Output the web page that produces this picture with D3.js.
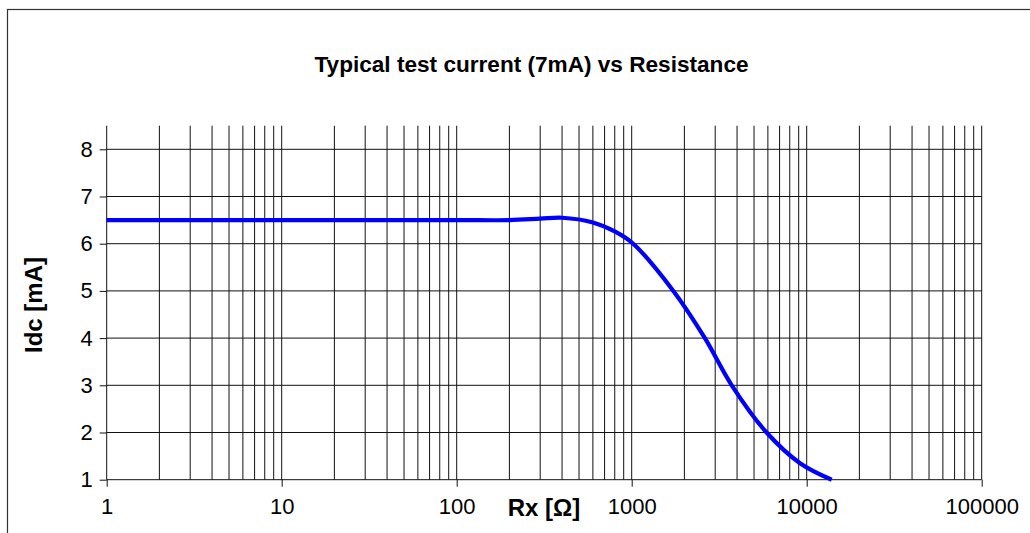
<!DOCTYPE html>
<html>
<head>
<meta charset="utf-8">
<script src="https://cdn.jsdelivr.net/npm/d3@7/dist/d3.min.js"></script>
<style>
  html, body { margin: 0; padding: 0; background: #fff; }
  svg { display: block; font-family: "Liberation Sans", Arial, sans-serif; }
</style>
</head>
<body>
<svg id="chart" width="1030" height="533"></svg>
<script>
// Test current vs. resistance (log x axis)
const resistance = [1, 10, 100, 200, 300, 400, 600, 800, 1020, 1730, 2620, 3730, 5900, 9160, 13900];
const current    = [6.5, 6.5, 6.5, 6.5, 6.53, 6.55, 6.45, 6.26, 6.0, 5.0, 4.0, 3.0, 2.0, 1.35, 1.0];
const xTicks = [1, 10, 100, 1000, 10000, 100000];
const yTicks = [1, 2, 3, 4, 5, 6, 7, 8];

const titleText = "Typical test current (7mA) vs Resistance";
const xLabel = "Rx [Ω]";
const yLabel = "Idc [mA]";

const svg = d3.select("#chart");
const plotL = 106.7, plotR = 981.7, plotT = 125.7, plotB = 479.7;

// outer frame
svg.append("rect")
  .attr("x", 7.5).attr("y", 9.5)
  .attr("width", 1100).attr("height", 1000)
  .attr("fill", "none").attr("stroke", "#333").attr("stroke-width", 1.2);

const x = d3.scaleLog().domain([1, 100000]).range([plotL, plotR]);
const y = d3.scaleLinear().domain([1, 8.5]).range([plotB, plotT]);

// minor + major vertical gridlines
const vLines = [];
for (let d = 1; d < 100000; d *= 10) {
  for (let k = 1; k <= 9; k++) vLines.push(d * k);
}
vLines.push(100000);

const grid = svg.append("g").attr("stroke", "#111").attr("stroke-width", 1);
grid.selectAll("line.v").data(vLines).join("line")
  .attr("class", "v")
  .attr("x1", d => x(d)).attr("x2", d => x(d))
  .attr("y1", y(8.5)).attr("y2", y(1));

grid.selectAll("line.h").data(yTicks).join("line")
  .attr("class", "h")
  .attr("x1", plotL).attr("x2", plotR)
  .attr("y1", d => y(d)).attr("y2", d => y(d));

// axes
const xAxis = d3.axisBottom(x).tickValues(xTicks).tickFormat(d3.format("d"))
  .tickSize(7).tickPadding(12);
const gx = svg.append("g").attr("transform", `translate(0,${plotB})`).call(xAxis);
gx.select(".domain").remove();
gx.selectAll("line").attr("stroke", "#111");
gx.selectAll("text").attr("font-size", 22).attr("fill", "#000")
  .attr("font-family", "Liberation Sans, Arial, sans-serif");

const yAxis = d3.axisLeft(y).tickValues(yTicks).tickSize(7).tickPadding(7);
const gy = svg.append("g").attr("transform", `translate(${plotL},0)`).call(yAxis);
gy.select(".domain").remove();
gy.selectAll("line").attr("stroke", "#111");
gy.selectAll("text").attr("font-size", 22).attr("fill", "#000")
  .attr("font-family", "Liberation Sans, Arial, sans-serif");

// curve
const line = d3.line()
  .x((d, i) => x(resistance[i]))
  .y(d => y(d))
  .curve(d3.curveCatmullRom.alpha(0.5));

svg.append("path")
  .datum(current)
  .attr("d", line)
  .attr("fill", "none")
  .attr("stroke", "#0000ff")
  .attr("stroke-width", 4.2)
  .attr("stroke-linejoin", "round");

// titles
svg.append("text")
  .attr("x", 531.5).attr("y", 72)
  .attr("text-anchor", "middle")
  .attr("font-size", 22.6).attr("font-weight", "bold")
  .text(titleText);

svg.append("text")
  .attr("x", 544).attr("y", 516)
  .attr("text-anchor", "middle")
  .attr("font-size", 24).attr("font-weight", "bold")
  .text(xLabel);

svg.append("text")
  .attr("transform", "translate(42,305) rotate(-90)")
  .attr("text-anchor", "middle")
  .attr("font-size", 24).attr("font-weight", "bold")
  .text(yLabel);
</script>
</body>
</html>
